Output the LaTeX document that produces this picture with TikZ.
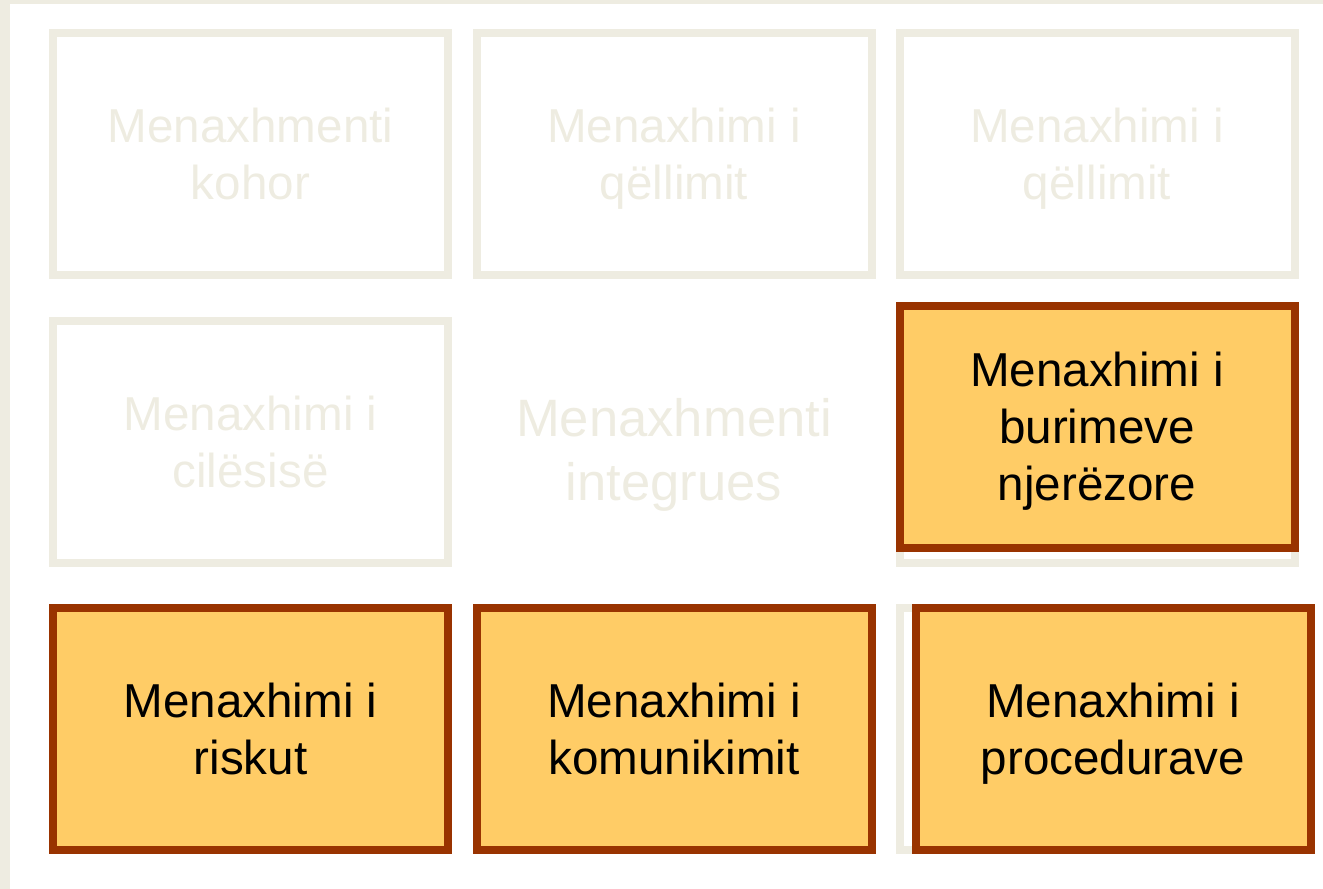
\documentclass[tikz,border=0pt]{standalone}
\usepackage{fontspec}
\setmainfont{Liberation Sans}
\definecolor{tan}{RGB}{238,236,225}
\definecolor{gold}{RGB}{255,204,102}
\definecolor{rust}{RGB}{153,51,0}
\begin{document}
\begin{tikzpicture}[x=0.5pt,y=-0.5pt,thick,
  area/.style={rectangle,draw=tan,line width=4pt,minimum width=197.5pt,minimum height=121pt,inner sep=0pt,align=center,text=tan,text depth=0pt,font=\fontsize{23.8}{28.6}\selectfont},
  chosen/.style={area,draw=rust,fill=gold,text=black}]

                \useasboundingbox (0,0) rectangle (1323,889);
                \fill[tan] (0,0) rectangle (1323,4);
                \fill[tan] (0,0) rectangle (10,889);

                \node[area] (time) at (250.5,154) {Menaxhmenti\\kohor};
                \node[area] (scope) at (674,154) {Menaxhimi i\\qëllimit};
                \node[area] (scope2) at (1097,154) {Menaxhimi i\\qëllimit};
                \node[area] (quality) at (250.5,441.5) {Menaxhimi i\\cilësisë};
                \node[area,draw=none,font=\fontsize{26.3}{32}\selectfont] (integ) at (674,449.5) {Menaxhmenti\\integrues};
                \node[area] (hrback) at (1097,441.5) {};
                \node[area] (procback) at (1097,728.5) {};

                \node[chosen] (hr) at (1097,426.5) {Menaxhimi i\\burimeve\\njerëzore};
                \node[chosen] (risk) at (250.5,728.5) {Menaxhimi i\\riskut};
                \node[chosen] (comm) at (674,728.5) {Menaxhimi i\\komunikimit};
                \node[chosen] (proc) at (1113,728.5) {Menaxhimi i\\procedurave};

                ;
            \end{tikzpicture}
\end{document}
